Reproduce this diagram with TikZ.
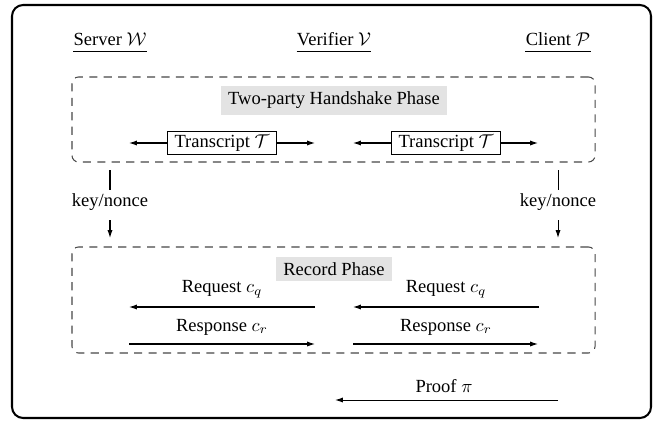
\documentclass[tikz,border=0pt]{standalone}
\usepackage{fontspec}
\setmainfont{Liberation Serif}
\usetikzlibrary{arrows.meta,fit}
\begin{document}
\begin{tikzpicture}[x=0.54pt,y=-0.54pt,
  hdr/.style={anchor=base,inner sep=0pt},
  uline/.style={line width=0.5pt},
  phasebox/.style={draw=black!72,line width=0.55pt,dash pattern=on 4.4pt off 3.4pt,rounded corners=3.5pt,inner sep=0pt},
  graylbl/.style={fill=black!11,inner xsep=3.8pt,inner ysep=3.2pt},
  tbox/.style={draw,line width=0.5pt,fill=white,inner xsep=4pt,inner ysep=1.6pt},
  arr/.style={line width=0.55pt,-{Latex[length=4.3pt,width=2.8pt]}},
  plain/.style={line width=0.55pt},
  lbl/.style={inner sep=0pt}]
\useasboundingbox (0,0) rectangle (655,420);
\draw[line width=1.1pt,rounded corners=6pt] (12,5) rectangle (651,418);

% headers
\node[hdr] (srv) at (110,45) {Server $\mathcal{W}$};
\node[hdr] (ver) at (334,45) {Verifier $\mathcal{V}$};
\node[hdr] (cli) at (558,45) {Client $\mathcal{P}$};
\draw[uline] ([yshift=-3.6pt]srv.base west) -- ([yshift=-3.6pt]srv.base east);
\draw[uline] ([yshift=-3.6pt]ver.base west) -- ([yshift=-3.6pt]ver.base east);
\draw[uline] ([yshift=-3.6pt]cli.base west) -- ([yshift=-3.6pt]cli.base east);

% handshake phase
\node[phasebox,fit={(72,77) (595,162)}] (hs) {};
\node[graylbl] (hst) at (334,100.5) {Two-party Handshake Phase};
\node[tbox] (t1) at (222,143) {Transcript $\mathcal{T}$};
\node[tbox] (t2) at (446,143) {Transcript $\mathcal{T}$};
\coordinate (t1l) at (129,143);
\coordinate (t1r) at (315,143);
\coordinate (t2l) at (353,143);
\coordinate (t2r) at (538,143);
\draw[arr] (t1.west) -- (t1l);
\draw[arr] (t1.east) -- (t1r);
\draw[arr] (t2.west) -- (t2l);
\draw[arr] (t2.east) -- (t2r);

% key/nonce
\node (kn1) at (110,202.5) {key/nonce};
\node (kn2) at (558,202.5) {key/nonce};
\coordinate (k1a) at (110,170);
\coordinate (k1b) at (110,190);
\coordinate (k1c) at (110,220);
\coordinate (k1d) at (110,238);
\coordinate (k2a) at (558,170);
\coordinate (k2b) at (558,190);
\coordinate (k2c) at (558,220);
\coordinate (k2d) at (558,238);
\draw[plain] (k1a) -- (k1b);
\draw[arr] (k1c) -- (k1d);
\draw[plain] (k2a) -- (k2b);
\draw[arr] (k2c) -- (k2d);

% record phase
\node[phasebox,fit={(72,247) (595,353)}] (rec) {};
\node[graylbl] (rect) at (334,269) {Record Phase};

\node[lbl] (rq1) at (222,289) {Request $c_q$};
\node[lbl] (rq2) at (446,289) {Request $c_q$};
\node[lbl] (rs1) at (222,327) {Response $c_r$};
\node[lbl] (rs2) at (446,327) {Response $c_r$};
\coordinate (a1s) at (315,307); \coordinate (a1e) at (129,307);
\coordinate (a2s) at (539,307); \coordinate (a2e) at (353,307);
\coordinate (b1s) at (129,344); \coordinate (b1e) at (315,344);
\coordinate (b2s) at (353,344); \coordinate (b2e) at (538,344);
\draw[arr] (a1s) -- (a1e);
\draw[arr] (a2s) -- (a2e);
\draw[arr] (b1s) -- (b1e);
\draw[arr] (b2s) -- (b2e);

% proof
\node[lbl] (pf) at (444,386) {Proof $\pi$};
\coordinate (ps) at (558,400);
\coordinate (pe) at (335,400);
\draw[arr] (ps) -- (pe);
\end{tikzpicture}
\end{document}
